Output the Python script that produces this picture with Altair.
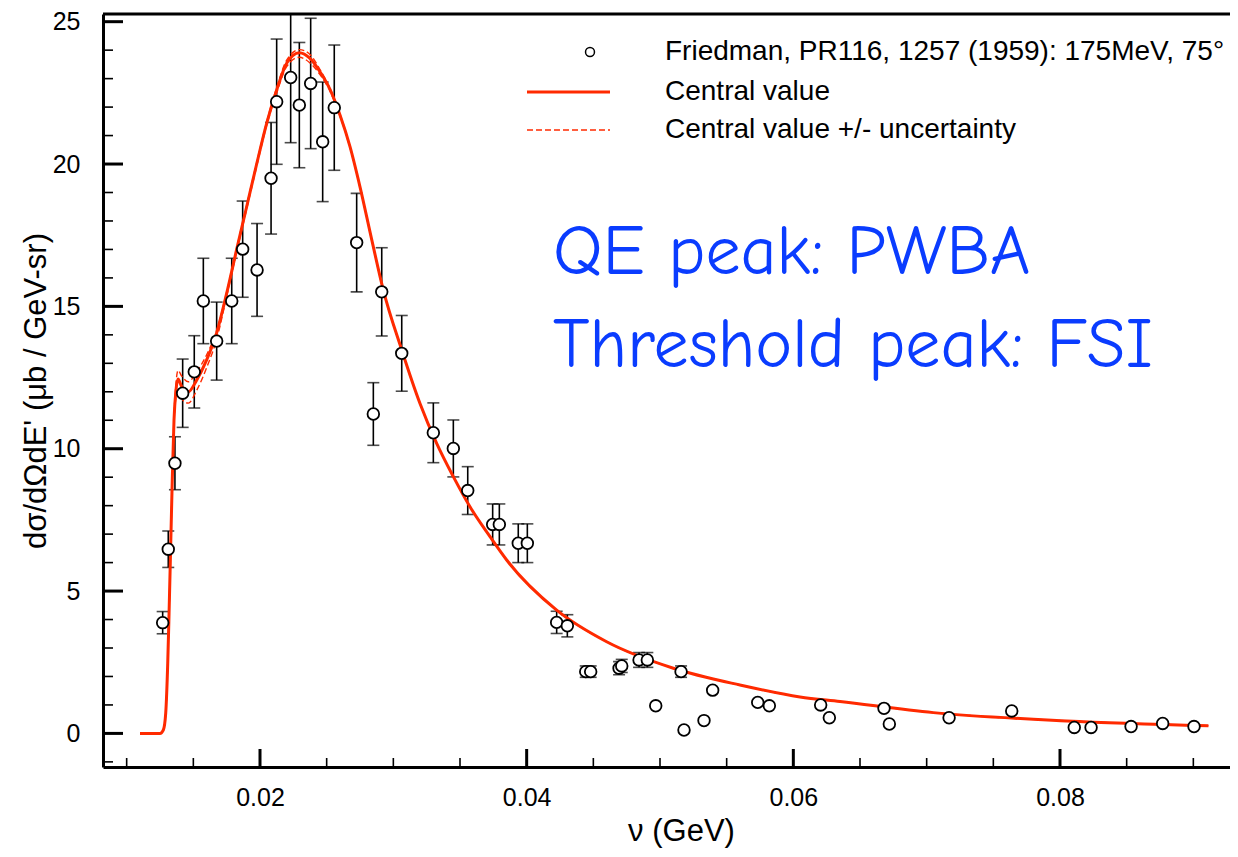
import altair as alt
import pandas as pd

# ---------------- data ----------------
nu_pts = [0.01270, 0.01312, 0.01362, 0.01420, 0.01507, 0.01575, 0.01675, 0.01788, 0.01870, 0.01978,
          0.02083, 0.02125, 0.02230, 0.02295, 0.02380, 0.02470, 0.02557, 0.02725, 0.02850, 0.02913,
          0.03063, 0.03300, 0.03450, 0.03558, 0.03745, 0.03795, 0.03937, 0.04005, 0.04225, 0.04305,
          0.04443, 0.04480, 0.04693, 0.04713, 0.04843, 0.04905, 0.04968, 0.05158, 0.05180, 0.05330,
          0.05395, 0.05733, 0.05820, 0.06205, 0.06270, 0.06680, 0.06720, 0.07168, 0.07638, 0.08107,
          0.08233, 0.08533, 0.08770, 0.09005]
xs_pts = [3.89, 6.47, 9.49, 11.95, 12.70, 15.19, 13.78, 15.19, 17.01, 16.28,
          19.50, 22.19, 23.04, 22.07, 22.83, 20.78, 21.98, 17.24, 11.22, 15.51,
          13.35, 10.56, 10.01, 8.53, 7.34, 7.34, 6.68, 6.68, 3.90, 3.78,
          2.17, 2.17, 2.29, 2.37, 2.58, 2.58, 0.97, 2.17, 0.12, 0.45,
          1.52, 1.09, 0.97, 1.00, 0.55, 0.88, 0.33, 0.55, 0.79, 0.21,
          0.21, 0.24, 0.35, 0.24]
err_pts = [0.39, 0.64, 0.93, 1.20, 1.27, 1.50, 1.37, 1.50, 1.69, 1.63,
           1.96, 2.20, 2.29, 2.20, 2.29, 2.10, 2.20, 1.73, 1.10, 1.55,
           1.33, 1.05, 1.00, 0.84, 0.72, 0.72, 0.68, 0.68, 0.39, 0.39,
           0.20, 0.20, 0.23, 0.23, 0.26, 0.26, 0.0, 0.20, 0.0, 0.0,
           0.0, 0.0, 0.0, 0.0, 0.0, 0.0, 0.0, 0.0, 0.0, 0.0,
           0.0, 0.0, 0.0, 0.0]

nu_curve = [0.01100, 0.01250, 0.01275, 0.01293, 0.01308, 0.01318, 0.01330, 0.01342, 0.01355, 0.01370,
            0.01385, 0.01413, 0.01462, 0.01525, 0.01600, 0.01675, 0.01750, 0.01825, 0.01900, 0.01975,
            0.02050, 0.02125, 0.02200, 0.02295, 0.02375, 0.02450, 0.02525, 0.02600, 0.02675, 0.02750,
            0.02840, 0.02925, 0.03063, 0.03200, 0.03325, 0.03450, 0.03575, 0.03725, 0.03850, 0.04225,
            0.04600, 0.05100, 0.05600, 0.06050, 0.06350, 0.07050, 0.08050, 0.09113]
central = [0.0, 0.0, 0.12, 0.72, 2.47, 4.22, 6.56, 8.90, 11.00, 12.06,
           12.45, 12.18, 12.00, 12.41, 13.12, 14.07, 15.46, 17.00, 18.50, 20.00,
           21.43, 22.60, 23.54, 23.91, 23.71, 23.24, 22.62, 21.72, 20.61, 19.20,
           17.30, 15.57, 13.47, 11.59, 10.19, 9.02, 7.96, 6.91, 6.09, 4.33,
           3.22, 2.29, 1.70, 1.28, 1.12, 0.73, 0.44, 0.27]
upper = [0.0, 0.0, 0.12, 0.72, 2.47, 4.22, 6.56, 8.90, 11.10, 12.30,
         12.75, 12.55, 12.35, 12.70, 13.30, 14.15, 15.50, 17.05, 18.55, 20.05,
         21.48, 22.68, 23.65, 24.02, 23.85, 23.32, 22.66, 21.74, 20.62, 19.20,
         17.30, 15.57, 13.47, 11.59, 10.19, 9.02, 7.96, 6.91, 6.09, 4.33,
         3.22, 2.29, 1.70, 1.28, 1.12, 0.73, 0.44, 0.27]
lower = [0.0, 0.0, 0.12, 0.72, 2.47, 4.22, 6.56, 8.90, 10.90, 11.80,
         12.00, 11.75, 11.60, 12.05, 12.85, 13.85, 15.35, 16.92, 18.42, 19.92,
         21.36, 22.50, 23.42, 23.75, 23.55, 23.14, 22.56, 21.68, 20.58, 19.18,
         17.28, 15.55, 13.46, 11.58, 10.19, 9.02, 7.96, 6.91, 6.09, 4.33,
         3.22, 2.29, 1.70, 1.28, 1.12, 0.73, 0.44, 0.27]

y_major = [0, 5, 10, 15, 20, 25]
y_minor = [-1, 1, 2, 3, 4, 6, 7, 8, 9, 11, 12, 13, 14, 16, 17, 18, 19, 21, 22, 23, 24]
x_major = [0.02, 0.04, 0.06, 0.08]
x_minor = [0.01, 0.015, 0.025, 0.03, 0.035, 0.045, 0.05, 0.055, 0.065, 0.07, 0.075, 0.085, 0.09]

legend_labels = ["Friedman, PR116, 1257 (1959): 175MeV, 75°", "Central value", "Central value +/- uncertainty"]
notes = ["QE peak: PWBA", "Threshold peak: FSI"]
note_x = [0.04198, 0.04198]
note_y = [16.87, 13.61]

# ---------------- layout ----------------
W, H = 1127, 753
XDOM = [0.008225, 0.09275]
YDOM = [-1.18, 25.27]
RED = "#ff2a00"
FONT = "Liberation Sans"

pts = pd.DataFrame({"x": nu_pts, "y": xs_pts, "e": err_pts})
pts["lo"] = pts["y"] - pts["e"]
pts["hi"] = pts["y"] + pts["e"]
bars = pts[pts["e"] > 0]
cur = pd.DataFrame({"x": nu_curve, "c": central, "u": upper, "l": lower})
one = pd.DataFrame({"k": [0]})

x_axis = alt.Axis(values=x_major, format=".2f", ticks=False, tickSize=0, labelPadding=18,
                  labelFontSize=25, labelFont=FONT, labelColor="black", labelFlush=False,
                  domain=True, domainColor="black", domainWidth=3, grid=False,
                  title="ν (GeV)", titleFont=FONT, titleFontSize=31, titleFontWeight="normal",
                  titleColor="black", titleX=578, titleY=64, titleAlign="center", titleBaseline="middle")
y_axis = alt.Axis(values=y_major, format="d", ticks=False, tickSize=0, labelPadding=23,
                  labelFontSize=25, labelFont=FONT, labelColor="black", labelFlush=False,
                  domain=True, domainColor="black", domainWidth=3, grid=False,
                  title="dσ/dΩdE' (μb / GeV-sr)", titleFont=FONT, titleFontSize=31,
                  titleFontWeight="normal", titleColor="black", titleX=-67, titleY=H / 2,
                  titleAngle=-90, titleAlign="center", titleBaseline="middle")


def X(field):
    return alt.X(f"{field}:Q", scale=alt.Scale(domain=XDOM, nice=False, zero=False), axis=x_axis)


def Y(field):
    return alt.Y(f"{field}:Q", scale=alt.Scale(domain=YDOM, nice=False, zero=False), axis=y_axis)


err_rules = alt.Chart(bars).mark_rule(color="black", strokeWidth=1.6, clip=True).encode(
    x=X("x"), y=Y("lo"), y2="hi:Q")
caps_lo = alt.Chart(bars).mark_tick(orient="horizontal", color="black", size=12, thickness=1.6,
                                    clip=True).encode(x=X("x"), y=Y("lo"))
caps_hi = alt.Chart(bars).mark_tick(orient="horizontal", color="black", size=12, thickness=1.6,
                                    clip=True).encode(x=X("x"), y=Y("hi"))

dash_u = alt.Chart(cur).mark_line(color=RED, strokeWidth=1.4, strokeDash=[6, 3],
                                  interpolate="monotone").encode(x=X("x"), y=Y("u"))
dash_l = alt.Chart(cur).mark_line(color=RED, strokeWidth=1.4, strokeDash=[6, 3],
                                  interpolate="monotone").encode(x=X("x"), y=Y("l"))
central_line = alt.Chart(cur).mark_line(color=RED, strokeWidth=3,
                                        interpolate="monotone").encode(x=X("x"), y=Y("c"))

points = alt.Chart(pts).mark_point(shape="circle", size=135, filled=True, fill="white",
                                   stroke="black", strokeWidth=1.8, opacity=1).encode(
    x=X("x"), y=Y("y"))

notes_df = pd.DataFrame({"x": note_x, "y": note_y, "t": notes})
note_text = alt.Chart(notes_df).mark_text(align="left", baseline="middle", fontSize=70,
                                          font="Comic Sans MS, Comic Neue, Noto Sans",
                                          color="#0a3cff").encode(x=X("x"), y=Y("y"), text="t:N")

# inward ticks
ymaj = alt.Chart(pd.DataFrame({"v": y_major})).mark_rule(color="black", strokeWidth=3).encode(
    y=Y("v"), x=alt.value(0), x2=alt.value(20))
ymin = alt.Chart(pd.DataFrame({"v": y_minor})).mark_rule(color="black", strokeWidth=1.6).encode(
    y=Y("v"), x=alt.value(0), x2=alt.value(10))
xmaj = alt.Chart(pd.DataFrame({"v": x_major})).mark_rule(color="black", strokeWidth=3).encode(
    x=X("v"), y=alt.value(H), y2=alt.value(H - 18))
xmin = alt.Chart(pd.DataFrame({"v": x_minor})).mark_rule(color="black", strokeWidth=1.6).encode(
    x=X("v"), y=alt.value(H), y2=alt.value(H - 9))
top_border = alt.Chart(one).mark_rule(color="black", strokeWidth=3).encode(
    x=alt.value(0), x2=alt.value(W), y=alt.value(0))

# legend
leg_pt = alt.Chart(one).mark_point(shape="circle", size=80, filled=True, fill="white",
                                   stroke="black", strokeWidth=1.5, opacity=1).encode(
    x=alt.value(487), y=alt.value(38))
leg_solid = alt.Chart(one).mark_rule(color=RED, strokeWidth=3).encode(
    x=alt.value(424), x2=alt.value(507), y=alt.value(78))
leg_dash = alt.Chart(one).mark_rule(color=RED, strokeWidth=1.4, strokeDash=[6, 3]).encode(
    x=alt.value(424), x2=alt.value(507), y=alt.value(116))
leg_texts = []
for lab, yy in zip(legend_labels, [38, 78, 116]):
    leg_texts.append(
        alt.Chart(pd.DataFrame({"t": [lab]})).mark_text(align="left", baseline="middle",
                                                        fontSize=28, font=FONT, color="black").encode(
            x=alt.value(562), y=alt.value(yy), text="t:N"))

chart = alt.layer(
    err_rules, caps_lo, caps_hi, dash_u, dash_l, central_line, points, note_text,
    ymaj, ymin, xmaj, xmin, top_border, leg_pt, leg_solid, leg_dash, *leg_texts
).properties(
    width=W, height=H,
    autosize=alt.AutoSizeParams(type="none"),
    padding={"left": 95, "top": 6, "right": 0, "bottom": 82},
    background="white",
).configure_view(strokeWidth=0)

chart.save("out.html", embed_options={"renderer": "svg", "actions": False})
